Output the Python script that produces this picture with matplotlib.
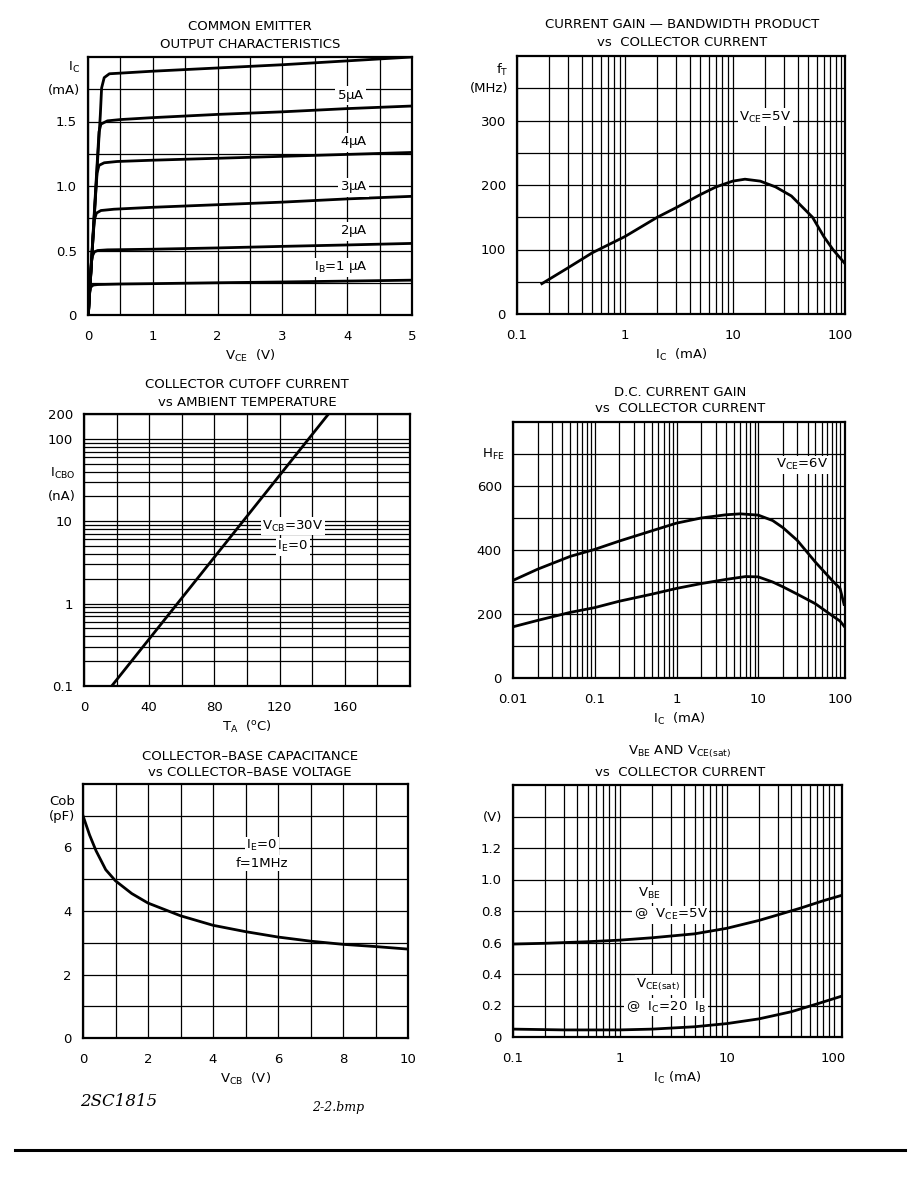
import numpy as np
import matplotlib.pyplot as plt
from matplotlib.ticker import FixedLocator, NullFormatter, LogLocator
from matplotlib.lines import Line2D

plt.rcParams['font.family'] = ['DejaVu Sans']
plt.rcParams['mathtext.default'] = 'regular'
plt.rcParams['font.size'] = 9.5

W, H = 918, 1188

# --- common emitter output characteristics (IC mA vs VCE V) ---
ib1_v = [0.0, 0.02, 0.04, 0.08, 0.15, 0.5, 1, 2, 3, 4, 5]
ib1_i = [0, 0.17, 0.215, 0.232, 0.236, 0.24, 0.243, 0.25, 0.256, 0.263, 0.27]
ib2_v = [0.005, 0.05, 0.07, 0.1, 0.15, 0.3, 1, 2, 3, 4, 5]
ib2_i = [0, 0.4, 0.46, 0.49, 0.5, 0.505, 0.51, 0.52, 0.532, 0.543, 0.555]
ib3_v = [0.005, 0.08, 0.1, 0.13, 0.2, 0.4, 1, 2, 3, 4, 5]
ib3_i = [0, 0.62, 0.74, 0.79, 0.81, 0.82, 0.835, 0.855, 0.875, 0.9, 0.92]
ib4_v = [0.005, 0.12, 0.14, 0.17, 0.25, 0.45, 1, 2, 3, 4, 5]
ib4_i = [0, 0.95, 1.1, 1.16, 1.18, 1.19, 1.2, 1.215, 1.23, 1.245, 1.26]
ib5_v = [0.005, 0.15, 0.17, 0.2, 0.3, 0.5, 1, 2, 3, 4, 5]
ib5_i = [0, 1.25, 1.42, 1.48, 1.505, 1.515, 1.53, 1.555, 1.575, 1.6, 1.62]
ib6_v = [0.005, 0.19, 0.21, 0.25, 0.33, 0.5, 1, 2, 3, 4, 5]
ib6_i = [0, 1.55, 1.76, 1.84, 1.87, 1.875, 1.89, 1.915, 1.94, 1.97, 2.0]
ib_labels = ['5$\\mu$A', '4$\\mu$A', '3$\\mu$A', '2$\\mu$A', 'I$_B$=1 $\\mu$A']

# --- fT vs IC ---
ft_ic = [0.17, 0.3, 0.5, 1, 2, 3, 5, 7, 10, 13, 18, 25, 35, 55, 70, 85, 110]
ft_mhz = [47, 72, 95, 120, 150, 165, 185, 197, 206, 209, 206, 197, 183, 150, 120, 100, 78]

# --- ICBO vs TA ---
icbo_t = [17, 150]
icbo_na = [0.1, 200]

# --- hFE vs IC ---
hfe_ic_hi = [0.01, 0.02, 0.05, 0.1, 0.2, 0.5, 1, 2, 4, 6, 10, 15, 20, 30, 50, 80, 100, 112]
hfe_hi = [305, 340, 380, 402, 428, 460, 484, 500, 510, 513, 509, 492, 470, 430, 362, 305, 280, 230]
hfe_ic_lo = [0.01, 0.02, 0.05, 0.1, 0.2, 0.5, 1, 2, 4, 7, 10, 15, 20, 30, 50, 80, 100, 112]
hfe_lo = [160, 180, 205, 220, 240, 262, 280, 295, 308, 317, 316, 300, 285, 262, 232, 195, 178, 162]

# --- Cob vs VCB ---
cob_v = [0, 0.2, 0.4, 0.7, 1, 1.5, 2, 3, 4, 5, 6, 7, 8, 9, 10]
cob_pf = [7.0, 6.4, 5.9, 5.3, 4.95, 4.55, 4.25, 3.85, 3.55, 3.35, 3.18, 3.05, 2.95, 2.88, 2.8]

# --- VBE, VCE(sat) vs IC ---
vbe_ic = [0.1, 0.2, 0.5, 1, 2, 5, 10, 20, 30, 50, 80, 120]
vbe_v = [0.59, 0.595, 0.605, 0.615, 0.63, 0.655, 0.69, 0.74, 0.775, 0.82, 0.865, 0.9]
vce_ic = [0.1, 0.3, 1, 2, 5, 10, 20, 40, 70, 120]
vce_v = [0.05, 0.045, 0.045, 0.05, 0.065, 0.085, 0.115, 0.16, 0.21, 0.26]

fig = plt.figure(figsize=(W / 100, H / 100), dpi=100)


def panel(l, r, t, b):
    ax = fig.add_axes([l / W, 1 - b / H, (r - l) / W, (b - t) / H])
    for s in ax.spines.values():
        s.set_linewidth(1.6)
    ax.tick_params(which='both', length=0, labelsize=9.5)
    ax.tick_params(axis='x', pad=11)
    ax.tick_params(axis='y', pad=8)
    ax.grid(True, which='both', color='black', lw=0.9)
    ax.set_axisbelow(True)
    return ax


def ftxt(x, y, s, **kw):
    fig.text(x / W, 1 - y / H, s, ha='center', va='center', fontsize=9.5, **kw)


def ylab(ax, y, s):
    ax.text(-0.025, y, s, transform=ax.get_yaxis_transform(), ha='right', va='center', fontsize=9.5)


box = dict(facecolor='white', edgecolor='none', pad=1)
LW = 2.0

# panel 1
ax = panel(88, 412, 57, 315)
ax.set_xlim(0, 5)
ax.set_ylim(0, 2.0)
ax.set_xticks([0, 1, 2, 3, 4, 5])
ax.set_xticks(np.arange(0.5, 5, 1), minor=True)
ax.set_yticks([0, 0.5, 1.0, 1.5])
ax.set_yticklabels(['0', '0.5', '1.0', '1.5'])
ax.set_yticks([0.25, 0.75, 1.25, 1.75], minor=True)
for v, i in [(ib1_v, ib1_i), (ib2_v, ib2_i), (ib3_v, ib3_i), (ib4_v, ib4_i), (ib5_v, ib5_i), (ib6_v, ib6_i)]:
    ax.plot(v, i, color='black', lw=LW)
for (x, y), s in zip([(4.05, 1.70), (4.1, 1.34), (4.1, 0.99), (4.1, 0.65), (3.9, 0.37)], ib_labels):
    ax.text(x, y, s, ha='center', va='center', fontsize=9.5, bbox=box)
ylab(ax, 1.92, 'I$_C$')
ylab(ax, 1.74, '(mA)')
ax.set_xlabel('V$_{CE}$  (V)', labelpad=3)
ftxt(250, 26, 'COMMON EMITTER')
ftxt(250, 44, 'OUTPUT CHARACTERISTICS')

# panel 2
ax = panel(517, 845, 56, 314)
ax.set_xscale('log')
ax.set_xlim(0.1, 110)
ax.set_ylim(0, 400)
ax.xaxis.set_major_locator(FixedLocator([0.1, 1, 10, 100]))
ax.set_xticklabels(['0.1', '1', '10', '100'])
ax.xaxis.set_minor_locator(LogLocator(base=10, subs=np.arange(2, 10)))
ax.xaxis.set_minor_formatter(NullFormatter())
ax.set_yticks([0, 100, 200, 300])
ax.set_yticks([50, 150, 250, 350], minor=True)
ax.plot(ft_ic, ft_mhz, color='black', lw=LW)
ax.text(20, 305, 'V$_{CE}$=5V', ha='center', va='center', fontsize=9.5, bbox=box)
ylab(ax, 378, 'f$_T$')
ylab(ax, 350, '(MHz)')
ax.set_xlabel('I$_C$  (mA)', labelpad=3)
ftxt(682, 24, 'CURRENT GAIN \u2014 BANDWIDTH PRODUCT')
ftxt(682, 42, 'vs  COLLECTOR CURRENT')

# panel 3
ax = panel(84, 410, 414, 686)
ax.set_yscale('log')
ax.set_xlim(0, 200)
ax.set_ylim(0.1, 200)
ax.set_xticks([0, 40, 80, 120, 160])
ax.set_xticks([20, 60, 100, 140, 180], minor=True)
ax.yaxis.set_major_locator(FixedLocator([0.1, 1, 10, 100, 200]))
ax.set_yticklabels(['0.1', '1', '10', '100', '200'])
ax.yaxis.set_minor_locator(LogLocator(base=10, subs=np.arange(2, 10)))
ax.yaxis.set_minor_formatter(NullFormatter())
ax.plot(icbo_t, icbo_na, color='black', lw=LW)
ax.text(128, 8.7, 'V$_{CB}$=30V', ha='center', va='center', fontsize=9.5, bbox=box)
ax.text(128, 4.9, 'I$_E$=0', ha='center', va='center', fontsize=9.5, bbox=box)
ylab(ax, 38, 'I$_{CBO}$')
ylab(ax, 20, '(nA)')
ax.set_xlabel('T$_A$  ($^o$C)', labelpad=3)
ftxt(247, 384, 'COLLECTOR CUTOFF CURRENT')
ftxt(247, 402, 'vs AMBIENT TEMPERATURE')

# panel 4
ax = panel(513, 845, 422, 678)
ax.set_xscale('log')
ax.set_xlim(0.01, 115)
ax.set_ylim(0, 800)
ax.xaxis.set_major_locator(FixedLocator([0.01, 0.1, 1, 10, 100]))
ax.set_xticklabels(['0.01', '0.1', '1', '10', '100'])
ax.xaxis.set_minor_locator(LogLocator(base=10, subs=np.arange(2, 10)))
ax.xaxis.set_minor_formatter(NullFormatter())
ax.set_yticks([0, 200, 400, 600])
ax.set_yticks([100, 300, 500, 700], minor=True)
ax.plot(hfe_ic_hi, hfe_hi, color='black', lw=LW)
ax.plot(hfe_ic_lo, hfe_lo, color='black', lw=LW)
ax.text(34, 666, 'V$_{CE}$=6V', ha='center', va='center', fontsize=9.5, bbox=box)
ylab(ax, 700, 'H$_{FE}$')
ax.set_xlabel('I$_C$  (mA)', labelpad=3)
ftxt(680, 392, 'D.C. CURRENT GAIN')
ftxt(680, 409, 'vs  COLLECTOR CURRENT')

# panel 5
ax = panel(83, 408, 784, 1038)
ax.set_xlim(0, 10)
ax.set_ylim(0, 8)
ax.set_xticks([0, 2, 4, 6, 8, 10])
ax.set_xticks([1, 3, 5, 7, 9], minor=True)
ax.set_yticks([0, 2, 4, 6])
ax.set_yticks([1, 3, 5, 7], minor=True)
ax.plot(cob_v, cob_pf, color='black', lw=LW)
ax.text(5.5, 6.06, 'I$_E$=0', ha='center', va='center', fontsize=9.5, bbox=box)
ax.text(5.5, 5.5, 'f=1MHz', ha='center', va='center', fontsize=9.5, bbox=box)
ylab(ax, 7.45, 'Cob')
ylab(ax, 6.97, '(pF)')
ax.set_xlabel('V$_{CB}$  (V)', labelpad=3)
ftxt(250, 756, 'COLLECTOR\u2013BASE CAPACITANCE')
ftxt(250, 773, 'vs COLLECTOR\u2013BASE VOLTAGE')

# panel 6
ax = panel(513, 842, 785, 1037)
ax.set_xscale('log')
ax.set_xlim(0.1, 120)
ax.set_ylim(0, 1.6)
ax.xaxis.set_major_locator(FixedLocator([0.1, 1, 10, 100]))
ax.set_xticklabels(['0.1', '1', '10', '100'])
ax.xaxis.set_minor_locator(LogLocator(base=10, subs=np.arange(2, 10)))
ax.xaxis.set_minor_formatter(NullFormatter())
ax.set_yticks([0, 0.2, 0.4, 0.6, 0.8, 1.0, 1.2, 1.4])
ax.set_yticklabels(['0', '0.2', '0.4', '0.6', '0.8', '1.0', '1.2', '(V)'])
ax.plot(vbe_ic, vbe_v, color='black', lw=LW)
ax.plot(vce_ic, vce_v, color='black', lw=LW)
ax.text(1.9, 0.91, 'V$_{BE}$', ha='center', va='center', fontsize=9.5, bbox=box)
ax.text(3.0, 0.775, '@  V$_{CE}$=5V', ha='center', va='center', fontsize=9.5, bbox=box)
ax.text(2.3, 0.33, 'V$_{CE(sat)}$', ha='center', va='center', fontsize=9.5, bbox=box)
ax.text(2.7, 0.19, '@  I$_C$=20  I$_B$', ha='center', va='center', fontsize=9.5, bbox=box)
ax.set_xlabel('I$_C$ (mA)', labelpad=3)
ftxt(680, 752, 'V$_{BE}$ AND V$_{CE(sat)}$')
ftxt(680, 772, 'vs  COLLECTOR CURRENT')

# handwritten notes and page rule
fig.text(80 / W, 1 - 1102 / H, '2SC1815', fontsize=12, style='italic',
         family='DejaVu Serif', va='center')
fig.text(312 / W, 1 - 1108 / H, '2-2.bmp', fontsize=9, style='italic',
         family='DejaVu Serif', va='center')
fig.add_artist(Line2D([15 / W, 905 / W], [1 - 1150 / H, 1 - 1150 / H], color='black', lw=2.2))

fig.savefig('out.png', dpi=100)
